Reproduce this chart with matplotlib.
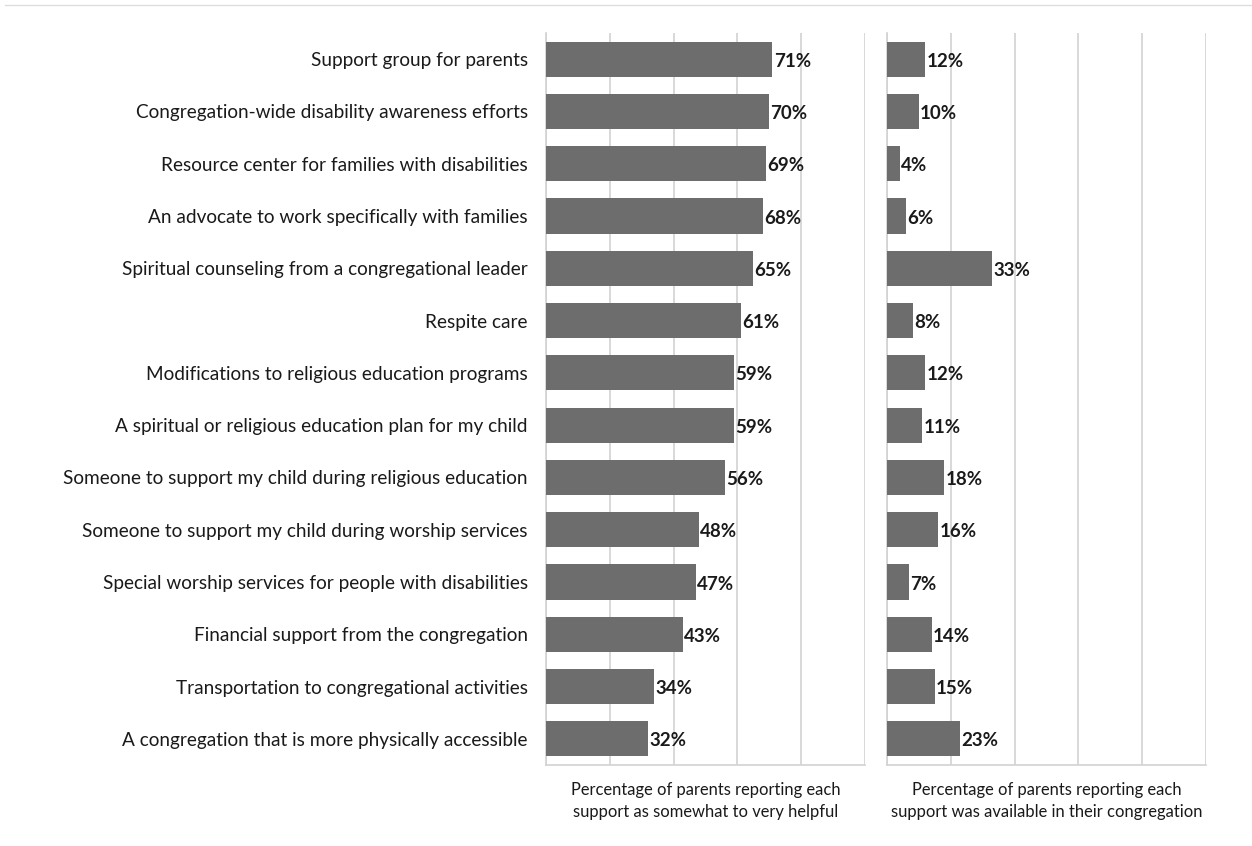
import matplotlib
matplotlib.use("Agg")
import matplotlib.pyplot as plt
from matplotlib.lines import Line2D

categories = [
    "Support group for parents",
    "Congregation-wide disability awareness efforts",
    "Resource center for families with disabilities",
    "An advocate to work specifically with families",
    "Spiritual counseling from a congregational leader",
    "Respite care",
    "Modifications to religious education programs",
    "A spiritual or religious education plan for my child",
    "Someone to support my child during religious education",
    "Someone to support my child during worship services",
    "Special worship services for people with disabilities",
    "Financial support from the congregation",
    "Transportation to congregational activities",
    "A congregation that is more physically accessible",
]
helpful = [71, 70, 69, 68, 65, 61, 59, 59, 56, 48, 47, 43, 34, 32]
available = [12, 10, 4, 6, 33, 8, 12, 11, 18, 16, 7, 14, 15, 23]
xlabels = [
    "Percentage of parents reporting each\nsupport as somewhat to very helpful",
    "Percentage of parents reporting each\nsupport was available in their congregation",
]

plt.rcParams['font.family'] = ['Lato', 'DejaVu Sans']

fig = plt.figure(figsize=(12.52, 8.46), dpi=100)
bar_color = "#6c6d6c"
grid_color = "#d2d2d2"

bottom = 1 - 765 / 846
height = (765 - 33) / 846
axes = [fig.add_axes([546 / 1252, bottom, 319 / 1252, height]),
        fig.add_axes([887 / 1252, bottom, 319 / 1252, height])]

y = list(range(len(categories)))
for i, (ax, vals) in enumerate(zip(axes, [helpful, available])):
    ax.barh(y, vals, height=0.67, color=bar_color, zorder=3)
    ax.set_xlim(0, 100)
    ax.set_ylim(len(categories) - 0.5, -0.5)
    ax.set_xticks([0, 20, 40, 60, 80, 100])
    ax.xaxis.grid(True, color=grid_color, linewidth=1.2, zorder=0)
    ax.tick_params(axis='both', length=0)
    ax.set_xticklabels([])
    for s in ['top', 'right']:
        ax.spines[s].set_visible(False)
    for s in ['left', 'bottom']:
        ax.spines[s].set_color(grid_color)
        ax.spines[s].set_linewidth(1.2)
    for yi, v in zip(y, vals):
        ax.text(v + 0.4, yi + 0.04, f"{v}%", va='center', ha='left',
                fontsize=13.5, fontweight='bold', color='#1a1a1a', zorder=4)
    if i == 0:
        ax.set_yticks(y)
        ax.set_yticklabels(categories, fontsize=13.7, color='#1a1a1a')
        ax.tick_params(axis='y', pad=13)
    else:
        ax.set_yticks([])
    ax.text(0.5, -0.023, xlabels[i], transform=ax.transAxes, ha='center', va='top',
            fontsize=11.9, color='#1a1a1a', linespacing=1.5)

fig.add_artist(Line2D([5 / 1252, 1.0], [1 - 5 / 846, 1 - 5 / 846],
                      transform=fig.transFigure, color='#dddddd', linewidth=1))

fig.savefig("out.png", dpi=100, facecolor='white')
